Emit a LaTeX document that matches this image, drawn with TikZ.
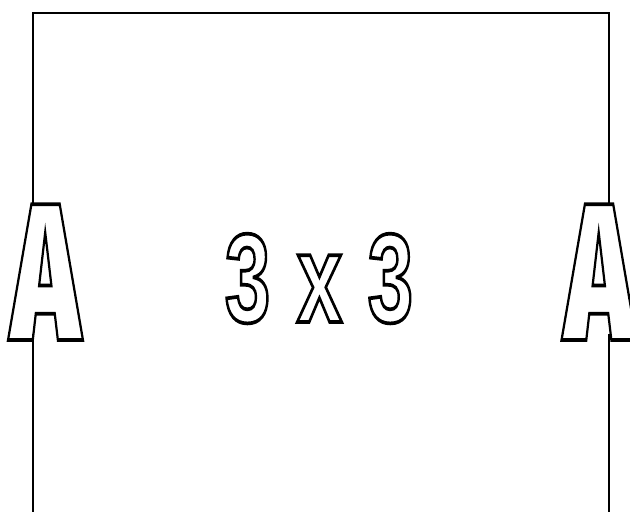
\documentclass[tikz,border=0pt]{standalone}
\usepackage{fontspec}
\setmainfont{Liberation Sans}
\newfontfamily\heavyface{Fira Sans Black}
\usetikzlibrary{positioning}

% hollow letters: stroke the glyph outline only
\newcommand{\hollow}[1]{\special{pdf:literal direct 1 Tr 2.1 w}#1\special{pdf:literal direct 0 Tr}}

\begin{document}
\begin{tikzpicture}[
  x=0.02cm, y=-0.02cm,
  frame/.style={line width=1.1pt, draw=black},
  bigletter/.style={inner sep=0pt, anchor=base, xscale=0.59,
    font=\fontsize{111}{111}\heavyface},
  digits/.style={inner sep=0pt, anchor=base, xscale=0.65,
    font=\fontsize{72}{72}\selectfont\bfseries}
]
  \useasboundingbox (0,0) rectangle (630,512);
  \clip (0,0) rectangle (630,512);

  % Letters on the two sides
  \node[bigletter] (leftA) at (45.5,340) {\hollow{A}};
  \node[bigletter] (rightA) at (599,340) {\hollow{A}};

  % Middle label
  \node[digits] (size) at (319,322) {\hollow{3\hspace{3pt} x\hspace{2pt} 3}};

  % Frame corners and gaps
  \coordinate (tl) at (33,13);
  \coordinate (tr) at (609,13);
  \coordinate (bl) at (33,512);
  \coordinate (br) at (609,512);
  \coordinate (ltop) at (33,205);
  \coordinate (lbot) at (33,334);
  \coordinate (rtop) at (609,205);
  \coordinate (rbot) at (609,334);

  \draw[frame] (ltop) -- (tl) -- (tr) -- (rtop);
  \draw[frame] (lbot) -- (bl);
  \draw[frame] (rbot) -- (br);
\end{tikzpicture}
\end{document}
